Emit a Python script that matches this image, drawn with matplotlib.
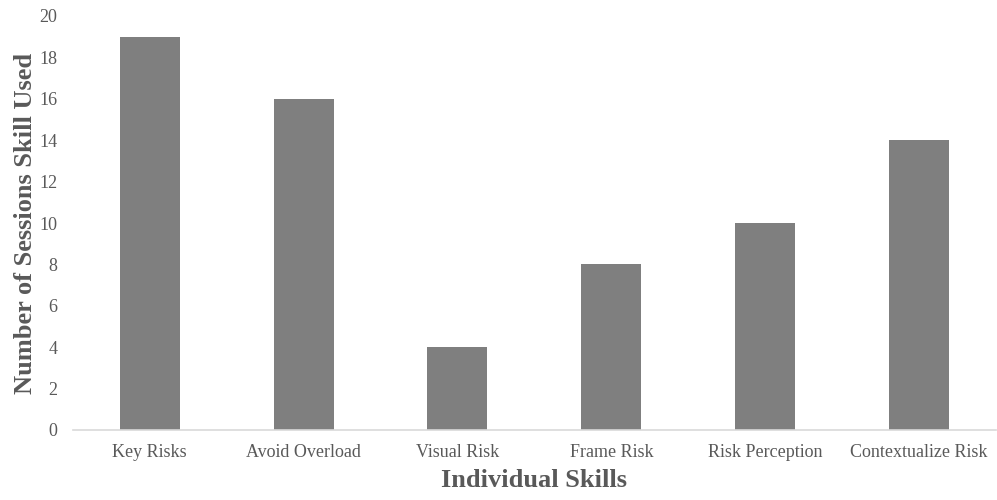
import matplotlib
matplotlib.use("Agg")
import matplotlib.pyplot as plt

skills = ["Key Risks", "Avoid Overload", "Visual Risk", "Frame Risk",
          "Risk Perception", "Contextualize Risk"]
sessions = [19, 16, 4, 8, 10, 14]
y_ticks = list(range(0, 21, 2))

plt.rcParams["font.family"] = ["Liberation Serif", "DejaVu Serif"]

fig = plt.figure(figsize=(9.97, 5.0), dpi=100)
ax = fig.add_axes([0.073, 0.14, 0.926, 0.828])

x = range(len(skills))
ax.bar(x, sessions, width=0.39, color="#7f7f7f", zorder=2)

ax.set_xlim(-0.5, len(skills) - 0.5)
ax.set_ylim(0, 20)
ax.set_yticks(y_ticks)
ax.set_xticks(list(x))
ax.set_xticklabels(skills)

for side in ("top", "right", "left"):
    ax.spines[side].set_visible(False)
ax.spines["bottom"].set_color("#d9d9d9")
ax.spines["bottom"].set_linewidth(1.2)

ax.tick_params(axis="both", length=0, labelsize=13, labelcolor="#595959")
ax.tick_params(axis="x", pad=10)
ax.tick_params(axis="y", pad=11)

ax.set_xlabel("Individual Skills", fontsize=19, fontweight="bold",
              color="#595959", labelpad=6)
ax.set_ylabel("Number of Sessions Skill Used", fontsize=19, fontweight="bold",
              color="#595959")
ax.yaxis.set_label_coords(-0.039, 0.5)

fig.savefig("out.png", dpi=100)
